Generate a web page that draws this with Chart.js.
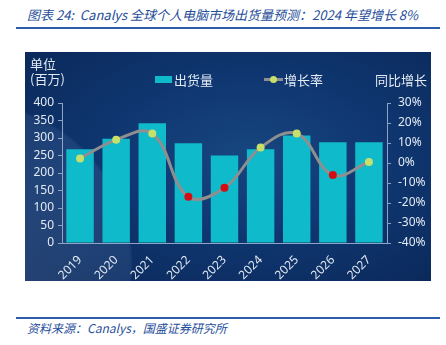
<!DOCTYPE html>
<html lang="zh-CN">
<head>
<meta charset="UTF-8">
<title>Canalys 全球个人电脑市场出货量预测</title>
<script src="https://cdn.jsdelivr.net/npm/chart.js"></script>
<style>
    body { margin: 0; width: 446px; height: 345px; background: #fff; position: relative; overflow: hidden;
           font-family: "Noto Sans CJK SC", "Noto Sans", sans-serif; }
    .titulo { position: absolute; left: 27px; top: 5px; font-size: 13px; font-style: italic; color: #1f4e9a; white-space: nowrap; }
    .linha { position: absolute; left: 16px; width: 424px; height: 2px; background: #2d5cab; }
    .painel { position: absolute; left: 25px; top: 52px; width: 406px; height: 229px; overflow: hidden;
              background:
                radial-gradient(circle at -55px 213px, rgba(150,180,225,0.22) 0, rgba(130,165,215,0.13) 160px, rgba(0,0,0,0) 163px),
                radial-gradient(ellipse at 55% 45%, #17467f 0%, #0f3670 45%, #0a2757 100%); }
    .painel canvas { position: absolute; left: 0; top: 0; }
    .txt { position: absolute; color: #e3eaf3; font-size: 13px; line-height: 15px; white-space: nowrap; }
    .sw { position: absolute; }
    .fonte { position: absolute; left: 27px; top: 319px; font-size: 12px; font-style: italic; color: #1f4e9a; white-space: nowrap; }
</style>
</head>
<body>
<div class="titulo">图表 24:&nbsp; Canalys 全球个人电脑市场出货量预测：2024 年望增长 8%</div>
<div class="linha" style="top:27px"></div>

<div class="painel">
    <canvas id="grafico" width="406" height="229"></canvas>
    <div class="txt" style="left:5px; top:4px">单位<br>(百万)</div>
    <div class="sw" style="left:130px; top:24px; width:17px; height:7px; background:#0fbaca"></div>
    <div class="txt" style="left:149px; top:20px">出货量</div>
    <div class="sw" style="left:239px; top:26px; width:19px; height:3px; background:#8f8f8f"></div>
    <div class="sw" style="left:245px; top:24px; width:7px; height:7px; border-radius:50%; background:#c6e06c"></div>
    <div class="txt" style="left:259px; top:20px">增长率</div>
    <div class="txt" style="left:350px; top:20px">同比增长</div>
</div>

<div class="linha" style="top:317px"></div>
<div class="fonte">资料来源：Canalys，国盛证券研究所</div>

<script>
    // dados
    const anos = ["2019", "2020", "2021", "2022", "2023", "2024", "2025", "2026", "2027"];
    const remessas = [268, 298, 342, 285, 250, 268, 307, 288, 288];
    const crescimento = [2.3, 11.6, 14.7, -16.9, -12.4, 7.7, 14.7, -6.0, 0.5];
    const ticksEsq = [0, 50, 100, 150, 200, 250, 300, 350, 400];
    const ticksDir = [-40, -30, -20, -10, 0, 10, 20, 30];

    const corTexto = '#e3eaf3';
    const corEixo = '#8ea4c4';
    const fonteTick = { family: '"Noto Sans", sans-serif', size: 12 };

    const coresPontos = crescimento.map(v => v >= 0 ? '#c6e06c' : '#d40d12');

    new Chart(document.getElementById('grafico'), {
        data: {
            labels: anos,
            datasets: [{
                type: 'line',
                label: '增长率',
                data: crescimento,
                yAxisID: 'y1',
                borderColor: '#8f8f8f',
                borderWidth: 3,
                tension: 0.4,
                pointRadius: 4,
                pointBorderWidth: 0,
                pointBackgroundColor: coresPontos,
                order: 0
            }, {
                type: 'bar',
                label: '出货量',
                data: remessas,
                yAxisID: 'y',
                backgroundColor: '#0fbaca',
                categoryPercentage: 1,
                barPercentage: 0.76,
                order: 1
            }]
        },
        options: {
            responsive: false,
            animation: false,
            layout: { padding: { top: 51, left: 0, right: 0, bottom: 0 } },
            plugins: { legend: { display: false }, tooltip: { enabled: false } },
            scales: {
                x: {
                    grid: { display: false },
                    border: { display: true, color: corEixo, width: 1 },
                    ticks: { color: corTexto, font: fonteTick, minRotation: 45, maxRotation: 45, padding: 2 },
                    afterFit: s => { s.height = 38; }
                },
                y: {
                    position: 'left',
                    min: 0, max: 400,
                    afterBuildTicks: s => { s.ticks = ticksEsq.map(v => ({ value: v })); },
                    grid: { drawOnChartArea: false, color: corEixo, tickLength: 4 },
                    border: { display: true, color: corEixo },
                    ticks: { color: corTexto, font: fonteTick, padding: 4 },
                    afterFit: s => { s.width = 37; }
                },
                y1: {
                    position: 'right',
                    min: -40, max: 30,
                    afterBuildTicks: s => { s.ticks = ticksDir.map(v => ({ value: v })); },
                    grid: { drawOnChartArea: false, color: corEixo, tickLength: 4 },
                    border: { display: true, color: corEixo },
                    ticks: { color: corTexto, font: fonteTick, padding: 7, callback: v => v + '%' },
                    afterFit: s => { s.width = 44; }
                }
            }
        }
    });
</script>
</body>
</html>
